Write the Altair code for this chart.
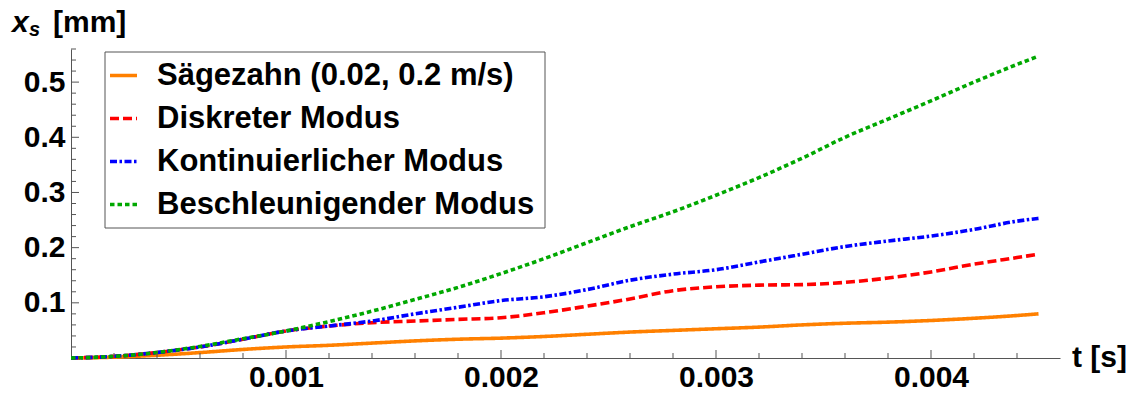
import altair as alt
import pandas as pd

# ---------------- data ----------------
t_s = [0, 0.0002, 0.0004, 0.0006, 0.0008, 0.001, 0.0012, 0.0014, 0.0016, 0.0018,
       0.002, 0.0022, 0.0024, 0.0026, 0.0028, 0.003, 0.0032, 0.0034, 0.0036, 0.0038,
       0.004, 0.0042, 0.0044, 0.0045]

series_names = ["Sägezahn (0.02, 0.2 m/s)", "Diskreter Modus",
                "Kontinuierlicher Modus", "Beschleunigender Modus"]

saegezahn = [0, 0.0015, 0.005, 0.0098, 0.0155, 0.020, 0.023, 0.027, 0.031, 0.034,
             0.036, 0.039, 0.043, 0.047, 0.050, 0.053, 0.056, 0.060, 0.063, 0.065,
             0.068, 0.072, 0.077, 0.080]
diskret = [0, 0.003, 0.010, 0.020, 0.034, 0.049, 0.058, 0.064, 0.067, 0.070,
           0.073, 0.082, 0.094, 0.107, 0.122, 0.129, 0.132, 0.133, 0.137, 0.145,
           0.156, 0.170, 0.182, 0.188]
kontinuierlich = [0, 0.003, 0.010, 0.020, 0.034, 0.049, 0.058, 0.067, 0.080, 0.092,
                  0.104, 0.111, 0.124, 0.141, 0.152, 0.160, 0.174, 0.188, 0.202, 0.212,
                  0.221, 0.233, 0.248, 0.253]
beschleunigend = [0, 0.003, 0.010, 0.021, 0.035, 0.049, 0.066, 0.085, 0.106, 0.128,
                  0.153, 0.180, 0.209, 0.238, 0.265, 0.295, 0.327, 0.362, 0.400, 0.433,
                  0.466, 0.500, 0.532, 0.547]

x_label_values = [0.001, 0.002, 0.003, 0.004]
y_label_values = [0.1, 0.2, 0.3, 0.4, 0.5]
x_minor_values = [0.0002, 0.0004, 0.0006, 0.0008, 0.0012, 0.0014, 0.0016, 0.0018,
                  0.0022, 0.0024, 0.0026, 0.0028, 0.0032, 0.0034, 0.0036, 0.0038,
                  0.0042, 0.0044]
y_minor_values = [0.02, 0.04, 0.06, 0.08, 0.12, 0.14, 0.16, 0.18, 0.22, 0.24, 0.26,
                  0.28, 0.32, 0.34, 0.36, 0.38, 0.42, 0.44, 0.46, 0.48, 0.52, 0.54, 0.56]

colors = ["#FF8000", "#FF0000", "#0000FF", "#00A800"]
dashes = [[1, 0], [9, 4], [7, 2.5, 2.5, 2.5], [4.5, 3]]

FONT = "Liberation Sans"
AXIS_COLOR = "#555555"

rows = []
for i, (name, vals) in enumerate(zip(series_names,
                                     [saegezahn, diskret, kontinuierlich, beschleunigend])):
    for t, v in zip(t_s, vals):
        rows.append({"t": t, "x": v, "series": name, "k": i})
df = pd.DataFrame(rows)

x_scale = alt.Scale(domain=[0, 0.0046], nice=False, zero=False)
y_scale = alt.Scale(domain=[0, 0.56], nice=False)

common_axis = dict(labelFont=FONT, labelFontSize=30, labelFontWeight="bold",
                   labelColor="black", ticks=False, grid=False, title=None,
                   domainColor=AXIS_COLOR, domainWidth=1, labelFlush=False,
                   labelOverlap=False)

legend = alt.Legend(title=None, orient="none", legendX=37, legendY=11,
                    labelFont=FONT, labelFontSize=31, labelFontWeight="bold",
                    labelColor="black", labelLimit=800, symbolType="stroke",
                    symbolStrokeWidth=3.5, symbolSize=729, labelOffset=18,
                    rowPadding=11, padding=0)

lines = alt.Chart(df).mark_line(strokeWidth=3.6, interpolate="monotone").encode(
    x=alt.X("t:Q", scale=x_scale,
            axis=alt.Axis(values=x_label_values, format=".3f", labelPadding=4, **common_axis)),
    y=alt.Y("x:Q", scale=y_scale,
            axis=alt.Axis(values=y_label_values, format=".1f", labelPadding=6, **common_axis)),
    color=alt.Color("series:N", sort=series_names,
                    scale=alt.Scale(domain=series_names, range=colors), legend=legend),
    strokeDash=alt.StrokeDash("series:N", sort=series_names,
                              scale=alt.Scale(domain=series_names, range=dashes), legend=legend),
    order=alt.Order("k:Q"),
)

x_major_ticks = alt.Chart(pd.DataFrame({"t": x_label_values})).mark_tick(
    orient="vertical", size=8, thickness=1, color=AXIS_COLOR, yOffset=-4, opacity=1
).encode(x=alt.X("t:Q", scale=x_scale), y=alt.Y(datum=0, scale=y_scale))

x_minor_ticks = alt.Chart(pd.DataFrame({"t": x_minor_values})).mark_tick(
    orient="vertical", size=5, thickness=1, color=AXIS_COLOR, yOffset=-2.5, opacity=1
).encode(x=alt.X("t:Q", scale=x_scale), y=alt.Y(datum=0, scale=y_scale))

y_major_ticks = alt.Chart(pd.DataFrame({"x": y_label_values})).mark_tick(
    orient="horizontal", size=8, thickness=1, color=AXIS_COLOR, xOffset=4, opacity=1
).encode(y=alt.Y("x:Q", scale=y_scale), x=alt.X(datum=0, scale=x_scale))

y_minor_ticks = alt.Chart(pd.DataFrame({"x": y_minor_values})).mark_tick(
    orient="horizontal", size=5, thickness=1, color=AXIS_COLOR, xOffset=2.5, opacity=1
).encode(y=alt.Y("x:Q", scale=y_scale), x=alt.X(datum=0, scale=x_scale))

one = pd.DataFrame({"a": [0]})

legend_frame = alt.Chart(one).mark_rect(
    fillOpacity=0, stroke=AXIS_COLOR, strokeWidth=1
).encode(x=alt.value(34), x2=alt.value(474), y=alt.value(3), y2=alt.value(179))

y_title_x = alt.Chart(one).mark_text(
    text="x", font=FONT, fontSize=30, fontWeight="bold", fontStyle="italic",
    align="left", baseline="alphabetic", color="black"
).encode(x=alt.value(-59), y=alt.value(-17))
y_title_s = alt.Chart(one).mark_text(
    text="s", font=FONT, fontSize=20, fontWeight="bold", fontStyle="italic",
    align="left", baseline="alphabetic", color="black"
).encode(x=alt.value(-42), y=alt.value(-13))
y_title_unit = alt.Chart(one).mark_text(
    text="[mm]", font=FONT, fontSize=30, fontWeight="bold",
    align="left", baseline="alphabetic", color="black"
).encode(x=alt.value(-18), y=alt.value(-17))

x_title = alt.Chart(one).mark_text(
    text="t [s]", font=FONT, fontSize=30, fontWeight="bold",
    align="left", baseline="alphabetic", color="black"
).encode(x=alt.value(1001), y=alt.value(318))

chart = alt.layer(
    lines, x_major_ticks, x_minor_ticks, y_major_ticks, y_minor_ticks,
    legend_frame, y_title_x, y_title_s, y_title_unit, x_title
).properties(
    width=989, height=309,
    padding={"left": 71, "top": 49, "right": 76, "bottom": 36},
    autosize=alt.AutoSizeParams(type="none"),
    background="white",
).configure_view(strokeWidth=0)

chart.save("out.html", embed_options={"renderer": "svg", "actions": False})
